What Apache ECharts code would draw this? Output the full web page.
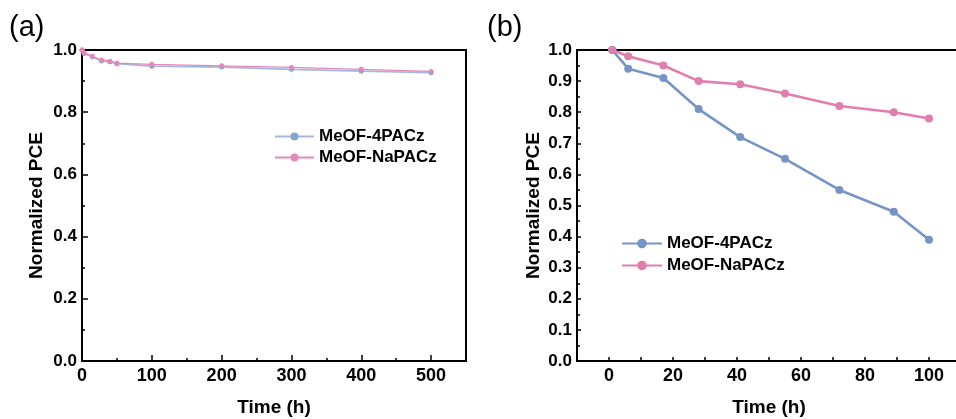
<!DOCTYPE html>
<html><head><meta charset="utf-8">
<script src="https://cdn.jsdelivr.net/npm/echarts@6/dist/echarts.min.js"></script>
<style>html,body{margin:0;padding:0;background:#fff;overflow:hidden}#c{width:956px;height:419px}</style>
</head><body><div id="c"></div>
<script>
// Panel (a)
var timeA = [0, 3, 15, 28, 40, 50, 100, 200, 300, 400, 500];
var pceA_4PACz = [1.0, 0.989, 0.978, 0.965, 0.962, 0.956, 0.948, 0.945, 0.938, 0.932, 0.927];
var pceA_NaPACz = [1.0, 0.991, 0.980, 0.968, 0.964, 0.958, 0.954, 0.949, 0.944, 0.938, 0.931];
// Panel (b)
var timeB = [1, 6, 17, 28, 41, 55, 72, 89, 100];
var pceB_4PACz = [1.0, 0.94, 0.91, 0.81, 0.72, 0.65, 0.55, 0.48, 0.39];
var pceB_NaPACz = [1.0, 0.98, 0.95, 0.90, 0.89, 0.86, 0.82, 0.80, 0.78];
var seriesNames = ['MeOF-4PACz', 'MeOF-NaPACz'];
var panelLabels = ['(a)', '(b)'];
var xTitle = 'Time (h)', yTitle = 'Normalized PCE';

var BLUE = '#7595c6', PINK = '#e07fae';
var BLUE_A = '#a3b8e0', PINK_A = '#e489b6';
var FONT = 'Liberation Sans, Arial, sans-serif';

function zip(xs, ys){ return xs.map(function(x,i){return [x, ys[i]];}); }

function xAxis(gi, min, max, interval, labelFn){
  return {
    type:'value', gridIndex:gi, min:min, max:max, interval:interval,
    name:xTitle, nameLocation:'middle', nameGap:37,
    nameTextStyle:{fontFamily:FONT,fontWeight:'bold',fontSize:19,color:'#000'},
    axisLine:{show:true,onZero:false,lineStyle:{color:'#000',width:2}},
    axisTick:{show:true,inside:true,length:gi===0?6:4,lineStyle:{color:'#000',width:1.5}},
    minorTick:{show:gi===0,splitNumber:2,length:3,lineStyle:{color:'#000',width:1.5}},
    splitLine:{show:false}, minorSplitLine:{show:false},
    axisLabel:{fontFamily:FONT,fontWeight:'bold',fontSize:18,color:'#000',margin:6,formatter:labelFn,showMaxLabel:true,showMinLabel:true}
  };
}
function yAxis(gi, interval, gap){
  return {
    type:'value', gridIndex:gi, min:0, max:1.0, interval:interval,
    name:yTitle, nameLocation:'middle', nameGap:gap,
    nameTextStyle:{fontFamily:FONT,fontWeight:'bold',fontSize:19,color:'#000'},
    axisLine:{show:true,onZero:false,lineStyle:{color:'#000',width:2}},
    axisTick:{show:true,inside:true,length:gi===0?6:4,lineStyle:{color:'#000',width:1.5}},
    minorTick:{show:true,splitNumber:2,length:3,lineStyle:{color:'#000',width:1.5}},
    splitLine:{show:false}, minorSplitLine:{show:false},
    axisLabel:{fontFamily:FONT,fontWeight:'bold',fontSize:17,color:'#000',margin:5,
      formatter:function(v){return v.toFixed(1);}}
  };
}

var chart = echarts.init(document.getElementById('c'), null, {renderer:'canvas'});
chart.setOption({
  animation:false,
  backgroundColor:'#fff',
  graphic:[
    {type:'text',left:9,top:13,style:{text:panelLabels[0],fontFamily:FONT,fontSize:29,fill:'#000'}},
    {type:'text',left:487,top:13,style:{text:panelLabels[1],fontFamily:FONT,fontSize:29,fill:'#000'}}
  ],
  grid:[
    {left:82,top:50,width:384,height:311,show:true,borderColor:'#000',borderWidth:2,backgroundColor:'transparent',outerBoundsMode:'none',containLabel:false},
    {left:577,top:50,width:384,height:311,show:true,borderColor:'#000',borderWidth:2,backgroundColor:'transparent',outerBoundsMode:'none',containLabel:false}
  ],
  xAxis:[
    xAxis(0,0,550,100,function(v){return (v%100===0 && v<=500)?String(v):'';}),
    xAxis(1,-10,110,10,function(v){return (v%20===0 && v>=0 && v<=100)?String(v):'';})
  ],
  yAxis:[ yAxis(0,0.2,36), yAxis(1,0.1,34) ],
  legend:[
    {left:269,top:123,orient:'vertical',itemWidth:39,itemHeight:10,itemGap:4,
     data:['a:'+seriesNames[0],'a:'+seriesNames[1]],
     formatter:function(n){return n.split(':')[1];},
     textStyle:{fontFamily:FONT,fontWeight:'bold',fontSize:17,color:'#000'}},
    {left:616,top:230,orient:'vertical',itemWidth:40,itemHeight:12,itemGap:5,
     data:['b:'+seriesNames[0],'b:'+seriesNames[1]],
     formatter:function(n){return n.split(':')[1];},
     textStyle:{fontFamily:FONT,fontWeight:'bold',fontSize:17,color:'#000'}}
  ],
  series:[
    {name:'a:'+seriesNames[0],type:'line',xAxisIndex:0,yAxisIndex:0,data:zip(timeA,pceA_4PACz),
     symbol:'circle',symbolSize:5,itemStyle:{color:'#8aa2d0'},lineStyle:{color:BLUE_A,width:1.8}},
    {name:'a:'+seriesNames[1],type:'line',xAxisIndex:0,yAxisIndex:0,data:zip(timeA,pceA_NaPACz),
     symbol:'circle',symbolSize:5,itemStyle:{color:PINK_A},lineStyle:{color:PINK_A,width:1.2}},
    {name:'b:'+seriesNames[0],type:'line',xAxisIndex:1,yAxisIndex:1,data:zip(timeB,pceB_4PACz),
     symbol:'circle',symbolSize:8,itemStyle:{color:BLUE},lineStyle:{color:BLUE,width:2.6}},
    {name:'b:'+seriesNames[1],type:'line',xAxisIndex:1,yAxisIndex:1,data:zip(timeB,pceB_NaPACz),
     symbol:'circle',symbolSize:8,itemStyle:{color:PINK},lineStyle:{color:PINK,width:2.6}}
  ]
});
</script></body></html>
